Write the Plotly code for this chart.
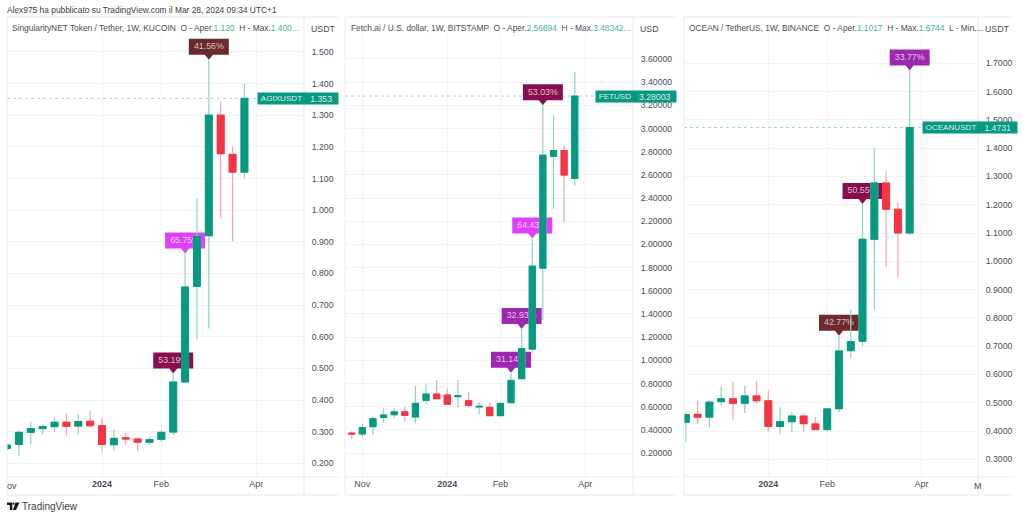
import numpy as np
import pandas as pd
import plotly.graph_objects as go

W, H = 1024, 518

weeks = ["2023-10-30", "2023-11-06", "2023-11-13", "2023-11-20", "2023-11-27", "2023-12-04",
         "2023-12-11", "2023-12-18", "2023-12-25", "2024-01-01", "2024-01-08", "2024-01-15",
         "2024-01-22", "2024-01-29", "2024-02-05", "2024-02-12", "2024-02-19", "2024-02-26",
         "2024-03-04", "2024-03-11", "2024-03-18", "2024-03-25"]

agix_open = [.247, .26, .298, .31, .316, .33, .318, .333, .319, .259, .281, .277, .267, .276, .299, .457, .759, .919, 1.30, 1.176, 1.12]
agix_close = [.258, .298, .31, .316, .33, .317, .332, .319, .26, .279, .277, .267, .275, .298, .457, .757, .918, 1.30, 1.178, 1.12, 1.353]
agix_high = [.26, .305, .332, .323, .345, .358, .356, .366, .344, .308, .297, .281, .284, .307, .484, .863, 1.036, 1.475, 1.343, 1.2, 1.40]
agix_low = [.24, .224, .26, .292, .30, .287, .292, .314, .237, .24, .257, .239, .258, .268, .29, .457, .592, .626, .974, .902, 1.10]

fet_open = [.372, .364, .427, .507, .53, .556, .51, .654, .709, .70, .686, .651, .597, .594, .522, .634, .841, 1.097, 1.795, 2.76, 2.81, 2.569]
fet_close = [.364, .42, .496, .528, .556, .525, .628, .709, .668, .62, .694, .611, .603, .522, .628, .826, 1.10, 1.812, 2.77, 2.81, 2.598, 3.28]
fet_high = [.387, .45, .516, .585, .585, .60, .78, .80, .829, .757, .829, .729, .637, .637, .637, .893, 1.27, 2.05, 3.20, 3.115, 2.856, 3.488]
fet_low = [.32, .341, .355, .46, .50, .47, .46, .628, .668, .614, .594, .597, .533, .522, .522, .634, .841, 1.06, 1.347, 2.305, 2.187, 2.505]

ocean_open = [.431, .459, .449, .504, .514, .498, .524, .507, .416, .433, .453, .425, .405, .479, .684, .717, 1.078, 1.277, 1.184, 1.10]
ocean_close = [.458, .449, .502, .514, .498, .524, .507, .416, .433, .453, .426, .405, .478, .683, .716, 1.078, 1.277, 1.184, 1.10, 1.4731]
ocean_high = [.465, .507, .51, .557, .575, .56, .576, .543, .484, .466, .463, .449, .481, .737, .829, 1.203, 1.40, 1.32, 1.208, 1.6744]
ocean_low = [.359, .424, .413, .49, .439, .464, .498, .398, .389, .396, .396, .405, .398, .466, .657, .70, .829, .979, .941, 1.093]

agix_ticks = [.2, .3, .4, .5, .6, .7, .8, .9, 1.0, 1.1, 1.2, 1.3, 1.4, 1.5]
fet_ticks = [.2, .4, .6, .8, 1.0, 1.2, 1.4, 1.6, 1.8, 2.0, 2.2, 2.4, 2.6, 2.8, 3.0, 3.2, 3.4, 3.6]
ocean_ticks = [.3, .4, .5, .6, .7, .8, .9, 1.0, 1.1, 1.2, 1.3, 1.4, 1.5, 1.6, 1.7]

agix_dates_ticks = ["2024-01-01", "2024-02-05", "2024-04-01"]
agix_date_text = ["<b>2024</b>", "Feb", "Apr"]
fet_dates_ticks = ["2023-11-06", "2024-01-01", "2024-02-05", "2024-04-01"]
fet_date_text = ["Nov", "<b>2024</b>", "Feb", "Apr"]
ocean_dates_ticks = ["2024-01-01", "2024-02-05", "2024-04-01"]
ocean_date_text = ["<b>2024</b>", "Feb", "Apr"]

agix_labels = [("2024-03-04", "41.56%", "#6d2a2e"), ("2024-02-19", "65.75%", "#e040fb"), ("2024-02-12", "53.19%", "#880e4f")]
fet_labels = [("2024-03-04", "53.03%", "#880e4f"), ("2024-02-26", "64.43%", "#e040fb"),
              ("2024-02-19", "32.93%", "#9c27b0"), ("2024-02-12", "31.14%", "#9c27b0")]
ocean_labels = [("2024-03-25", "33.77%", "#9c27b0"), ("2024-02-26", "50.55%", "#880e4f"), ("2024-02-12", "42.77%", "#6d2a2e")]

UP, DOWN = "#089981", "#f23645"
UP_WICK, DOWN_WICK = "#8ed3c6", "#f8a3ab"
GRID = "#f2f3f6"
FRAME = "#e9ebef"
TXT = "#4a4d57"
FONT = "Liberation Sans"
NUM = "#3fb39f"


def px(x):
    return x / W


def py(y):
    return 1 - y / H


panels = [
    dict(o=agix_open, c=agix_close, h=agix_high, l=agix_low, dates=weeks[1:], ticks=agix_ticks, fmt=".3f",
         left=7, right=304, jan=102.0, wk=11.87, yr=(.157, 1.61), tv=agix_dates_ticks, tt=agix_date_text,
         labels=agix_labels, name="AGIXUSDT", last="1.353", tag=(257, 303, 335), unit="USDT", unit_x=323,
         title_x=10,
         title="SingularityNET Token / Tether, 1W, KUCOIN  O - Aper.<span style='color:%s'>1.120</span>  H - Max.<span style='color:%s'>1.400...</span>" % (NUM, NUM)),
    dict(o=fet_open, c=fet_close, h=fet_high, l=fet_low, dates=weeks, ticks=fet_ticks, fmt=".5f",
         left=345, right=633, jan=447.3, wk=10.62, yr=(-.007, 3.962), tv=fet_dates_ticks, tt=fet_date_text,
         labels=fet_labels, name="FETUSD", last="3.28003", tag=(595, 632, 673), unit="USD", unit_x=649,
         title_x=349,
         title="Fetch.ai / U.S. dollar, 1W, BITSTAMP  O - Aper.<span style='color:%s'>2.56694</span>  H - Max.<span style='color:%s'>3.48342...</span>" % (NUM, NUM)),
    dict(o=ocean_open, c=ocean_close, h=ocean_high, l=ocean_low, dates=weeks[2:], ticks=ocean_ticks, fmt=".4f",
         left=684, right=978, jan=768.3, wk=11.78, yr=(.2374, 1.8637), tv=ocean_dates_ticks, tt=ocean_date_text,
         labels=ocean_labels, name="OCEANUSDT", last="1.4731", tag=(922, 977, 1014), unit="USDT", unit_x=997,
         title_x=687,
         title="OCEAN / TetherUS, 1W, BINANCE  O - Aper.<span style='color:%s'>1.1017</span>  H - Max.<span style='color:%s'>1.6744</span>  L - Min...." % (NUM, NUM)),
]

TOP, AXIS_Y, BOTTOM = 17, 477, 495
fig = go.Figure()
shapes, annotations = [], []
layout = {}


def text(s, x, y, xanchor="left", size=8.4, color=TXT):
    annotations.append(dict(text=s, x=px(x), y=py(y), xref="paper", yref="paper", xanchor=xanchor, yanchor="middle",
                            showarrow=False, font=dict(family=FONT, size=size, color=color)))


for i, p in enumerate(panels):
    n = "" if i == 0 else str(i + 1)
    xa, ya = "x" + n, "y" + n
    ov = str(i + 4)
    xo, yo = "x" + ov, "y" + ov
    lo = np.minimum(p["o"], p["c"])
    hi = np.maximum(p["o"], p["c"])
    highs = dict(zip(p["dates"], p["h"]))
    last = p["c"][-1]
    per_px = (p["yr"][1] - p["yr"][0]) / (AXIS_Y - TOP)
    jan1 = pd.Timestamp("2024-01-01")
    r0 = jan1 + pd.Timedelta(weeks=(p["left"] - p["jan"]) / p["wk"])
    r1 = jan1 + pd.Timedelta(weeks=(p["right"] - p["jan"]) / p["wk"])
    xr = [str(r0), str(r1)]

    # last price dotted line, behind the pennants
    shapes.append(dict(type="line", xref=xa, yref=ya, x0=xr[0], x1=xr[1], y0=last, y1=last, layer="between",
                       line=dict(color="#9fdcd0", width=1, dash="dot")))

    # pennant text lives on the base axes, so the candles (on overlaying axes) cover it as in the reference
    fig.add_trace(go.Scatter(x=[d for d, _, _ in p["labels"]],
                             y=[highs[d] + 12.7 * per_px for d, _, _ in p["labels"]],
                             text=[s for _, s, _ in p["labels"]], mode="text", textposition="middle center",
                             textfont=dict(family=FONT, size=8.8, color="rgba(255,255,255,0.72)"),
                             xaxis=xa, yaxis=ya, hoverinfo="skip", showlegend=False))
    fig.add_trace(go.Candlestick(x=p["dates"], open=p["o"], high=p["h"], low=p["l"], close=p["c"], xaxis=xo, yaxis=yo,
                                 increasing=dict(line=dict(color=UP_WICK, width=1.2), fillcolor=UP),
                                 decreasing=dict(line=dict(color=DOWN_WICK, width=1.2), fillcolor=DOWN),
                                 whiskerwidth=0, hoverinfo="skip", showlegend=False))
    fig.add_trace(go.Candlestick(x=p["dates"], open=p["o"], high=hi, low=lo, close=p["c"], xaxis=xo, yaxis=yo,
                                 increasing=dict(line=dict(color=UP, width=1), fillcolor=UP),
                                 decreasing=dict(line=dict(color=DOWN, width=1), fillcolor=DOWN),
                                 whiskerwidth=0, hoverinfo="skip", showlegend=False))
    layout["xaxis" + n] = dict(domain=[px(p["left"]), px(p["right"])], range=xr, type="date", anchor=ya,
                               rangeslider=dict(visible=False), tickmode="array", tickvals=p["tv"], ticktext=p["tt"],
                               gridcolor=GRID, gridwidth=1, showline=False, zeroline=False, ticks="",
                               tickfont=dict(family=FONT, size=9, color=TXT))
    layout["yaxis" + n] = dict(domain=[py(AXIS_Y), py(TOP)], range=list(p["yr"]), anchor=xa, side="right",
                               tickmode="array", tickvals=p["ticks"], ticktext=[format(t, p["fmt"]) for t in p["ticks"]],
                               gridcolor=GRID, gridwidth=1, showline=False, zeroline=False, ticks="outside", ticklen=5,
                               tickcolor="rgba(0,0,0,0)", tickfont=dict(family=FONT, size=8.7, color=TXT))
    layout["xaxis" + ov] = dict(overlaying=xa, range=xr, type="date", anchor=yo, visible=False,
                                rangeslider=dict(visible=False))
    layout["yaxis" + ov] = dict(overlaying=ya, range=list(p["yr"]), anchor=xo, side="right", visible=False)

    for d, s, col in p["labels"]:
        shapes.append(dict(type="path", layer="between", xref=xa, yref=ya, xsizemode="pixel", ysizemode="pixel",
                           xanchor=d, yanchor=highs[d],
                           path="M -20 21 L 20 21 L 20 5 L 4 5 L 0 0 L -4 5 L -20 5 Z",
                           fillcolor=col, line=dict(width=0)))

    # last price tag
    a, b, c = p["tag"]
    for s, x0, x1, fs in ((p["name"], a, b, 8.1), (p["last"], b + 0.5, c, 8.7)):
        annotations.append(dict(text=s, x=px(x0), y=last, xref="paper", yref=ya, xanchor="left", yanchor="middle",
                                width=x1 - x0, height=10, align="center", bgcolor=UP, borderpad=0.5, showarrow=False,
                                font=dict(family=FONT, size=fs, color="rgba(255,255,255,0.85)")))

    # header, unit
    shapes.append(dict(type="rect", xref="paper", yref="paper", x0=px(p["left"]), x1=px(p["right"]), y0=py(35), y1=py(TOP + 1),
                       layer="above", fillcolor="rgba(255,255,255,0.85)", line=dict(width=0)))
    text(p["title"], p["title_x"], 28)
    text(p["unit"], p["unit_x"], 29, xanchor="center", size=8.8)

    # frame
    col_r = panels[i + 1]["left"] - 6 if i < 2 else 1014
    for x0, y0, x1, y1 in ((p["left"], TOP, p["left"], BOTTOM), (p["right"], TOP, p["right"], BOTTOM),
                           (p["left"], AXIS_Y, col_r, AXIS_Y), (p["left"], BOTTOM, col_r, BOTTOM),
                           (p["left"], TOP, col_r, TOP)):
        shapes.append(dict(type="line", xref="paper", yref="paper", x0=px(x0), x1=px(x1), y0=py(y0), y1=py(y1),
                           layer="above", line=dict(color=FRAME, width=1)))

text("Alex975 ha pubblicato su TradingView.com il Mar 28, 2024 09:34 UTC+1", 5, 10, size=8.4, color="#3a3d46")
text("ov", 5, 486, size=9)
text("M", 971.5, 486, size=9)
text("TradingView", 20, 506.5, size=10, color="#3a3d46")

# TradingView mark
logo_t = [(7, 502.5), (12.3, 502.5), (12.3, 510), (9.8, 510), (9.8, 505), (7, 505)]
logo_v = [(15.5, 502.5), (13, 510), (16, 510), (19.5, 502.5)]
for pts in (logo_t, logo_v):
    path = "M " + " L ".join("%f %f" % (px(a), py(b)) for a, b in pts) + " Z"
    shapes.append(dict(type="path", xref="paper", yref="paper", path=path, fillcolor="#131722", line=dict(width=0)))
shapes.append(dict(type="circle", xref="paper", yref="paper", x0=px(12.6), x1=px(14.6), y0=py(504.8), y1=py(502.6),
                   fillcolor="#131722", line=dict(width=0)))

fig.update_layout(width=W, height=H, margin=dict(l=0, r=0, t=0, b=0), paper_bgcolor="white", plot_bgcolor="white",
                  showlegend=False, boxmode="overlay", boxgap=0.17, shapes=shapes, annotations=annotations,
                  font=dict(family=FONT), hovermode=False, **layout)

fig.write_html("out.html", config={"displayModeBar": False, "responsive": False},
               post_script="document.body.style.margin='0';document.body.style.overflow='hidden';")
